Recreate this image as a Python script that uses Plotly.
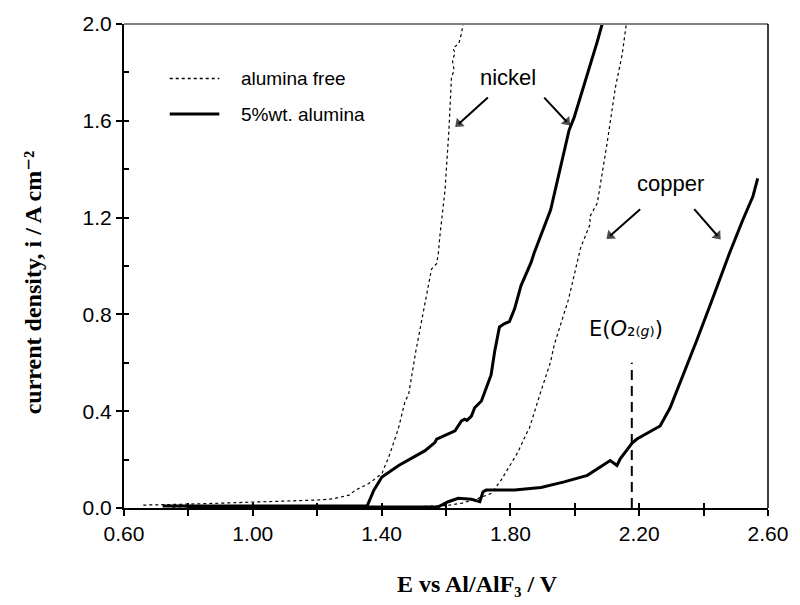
import plotly.graph_objects as go

# ---------------- data ----------------
ni_free_x = [0.66, 0.72, 0.80, 0.90, 1.00, 1.10, 1.20, 1.25, 1.299, 1.319, 1.360, 1.401, 1.422,
             1.443, 1.453, 1.473, 1.484, 1.506, 1.535, 1.555, 1.563, 1.571, 1.576, 1.581, 1.597,
             1.609, 1.617, 1.625, 1.620, 1.628, 1.622, 1.640, 1.648, 1.653]
ni_free_y = [0.012, 0.013, 0.016, 0.020, 0.024, 0.028, 0.033, 0.038, 0.053, 0.074, 0.101, 0.142, 0.210,
             0.292, 0.333, 0.442, 0.469, 0.646, 0.851, 0.987, 1.000, 1.010, 1.050, 1.124, 1.314,
             1.560, 1.778, 1.810, 1.850, 1.880, 1.900, 1.920, 1.960, 2.000]

ni_alu_x = [0.72, 0.90, 1.10, 1.30, 1.355, 1.376, 1.401, 1.453, 1.484, 1.535, 1.566, 1.571, 1.628,
            1.648, 1.658, 1.665, 1.679, 1.689, 1.710, 1.730, 1.740, 1.751, 1.766, 1.782, 1.797,
            1.813, 1.833, 1.864, 1.874, 1.925, 1.982, 1.998, 2.049, 2.070, 2.085]
ni_alu_y = [0.008, 0.008, 0.008, 0.008, 0.008, 0.074, 0.128, 0.176, 0.200, 0.237, 0.271, 0.285, 0.319,
            0.360, 0.367, 0.362, 0.380, 0.414, 0.442, 0.510, 0.550, 0.646, 0.748, 0.762, 0.770,
            0.823, 0.919, 1.014, 1.055, 1.232, 1.560, 1.614, 1.832, 1.928, 2.000]

cu_free_x = [0.75, 1.00, 1.30, 1.50, 1.60, 1.65, 1.70, 1.74, 1.771, 1.813, 1.823, 1.854, 1.859,
             1.895, 1.905, 1.925, 1.936, 1.980, 2.018, 2.035, 2.049, 2.045, 2.070, 2.100, 2.126,
             2.147, 2.160]
cu_free_y = [0.004, 0.004, 0.004, 0.005, 0.010, 0.020, 0.040, 0.060, 0.115, 0.210, 0.230, 0.319, 0.330,
             0.483, 0.523, 0.605, 0.674, 0.860, 1.075, 1.130, 1.178, 1.200, 1.260, 1.505, 1.737,
             1.873, 2.000]

cu_alu_x = [0.80, 1.20, 1.576, 1.607, 1.638, 1.679, 1.705, 1.715, 1.725, 1.813, 1.895, 1.967, 2.039,
            2.110, 2.131, 2.141, 2.178, 2.193, 2.265, 2.296, 2.337, 2.378, 2.424, 2.481, 2.522,
            2.553, 2.568]
cu_alu_y = [0.004, 0.004, 0.005, 0.026, 0.040, 0.036, 0.026, 0.067, 0.074, 0.074, 0.085, 0.108, 0.135,
            0.196, 0.176, 0.203, 0.268, 0.285, 0.339, 0.414, 0.551, 0.690, 0.851, 1.055, 1.191,
            1.287, 1.362]

o2_x = [2.177, 2.177]
o2_y = [0.0, 0.60]

x_tick_vals = [0.6, 1.0, 1.4, 1.8, 2.2, 2.6]
x_tick_text = ["0.60", "1.00", "1.40", "1.80", "2.20", "2.60"]
x_all_ticks = [0.6, 0.8, 1.0, 1.2, 1.4, 1.6, 1.8, 2.0, 2.2, 2.4, 2.6]
y_tick_vals = [0.0, 0.4, 0.8, 1.2, 1.6, 2.0]
y_tick_text = ["0.0", "0.4", "0.8", "1.2", "1.6", "2.0"]
y_all_ticks = [0.0, 0.2, 0.4, 0.6, 0.8, 1.0, 1.2, 1.4, 1.6, 1.8, 2.0]

legend_labels = ["alumina free", "5%wt. alumina"]

# ---------------- figure ----------------
SANS = "Liberation Sans, Arial, sans-serif"
SERIF = "Liberation Serif, Times New Roman, DejaVu Serif, serif"

dot_line = dict(color="black", width=1.2, dash="3px,3px")
solid_line = dict(color="black", width=3)

fig = go.Figure()
fig.add_trace(go.Scatter(x=ni_free_x, y=ni_free_y, mode="lines", line=dot_line, showlegend=False,
                         name="nickel, " + legend_labels[0]))
fig.add_trace(go.Scatter(x=cu_free_x, y=cu_free_y, mode="lines", line=dot_line, showlegend=False,
                         name="copper, " + legend_labels[0]))
fig.add_trace(go.Scatter(x=ni_alu_x, y=ni_alu_y, mode="lines", line=solid_line, showlegend=False,
                         name="nickel, " + legend_labels[1]))
fig.add_trace(go.Scatter(x=cu_alu_x, y=cu_alu_y, mode="lines", line=solid_line, showlegend=False,
                         name="copper, " + legend_labels[1]))
fig.add_trace(go.Scatter(x=o2_x, y=o2_y, mode="lines", xaxis="x2", yaxis="y2",
                         line=dict(color="black", width=2, dash="10px,6px"), showlegend=False,
                         name="E(O2)"))

# pointer arrows (tail -> head), drawn as short lines with a filled triangular head
arrow_pairs = [((1.730, 1.696), (1.640, 1.588)),
               ((1.905, 1.696), (1.975, 1.596)),
               ((2.203, 1.235), (2.110, 1.125)),
               ((2.371, 1.235), (2.443, 1.125))]
for (tx, ty), (hx, hy) in arrow_pairs:
    fig.add_trace(go.Scatter(x=[tx, hx], y=[ty, hy], mode="lines+markers", showlegend=False,
                             hoverinfo="skip", line=dict(color="black", width=2),
                             marker=dict(symbol="triangle-up", angleref="previous", size=[0, 10],
                                         color="black", line=dict(width=0))))

fig.update_layout(
    width=800, height=605,
    margin=dict(l=124, r=28, t=19, b=97),
    paper_bgcolor="white", plot_bgcolor="white",
    font=dict(family=SANS, color="black", size=20),
    xaxis=dict(range=[0.6, 2.6], tickmode="array", tickvals=x_tick_vals, ticktext=x_tick_text,
               ticks="outside", ticklen=6, tickwidth=1.5, tickcolor="black",
               minor=dict(tickmode="array", tickvals=x_all_ticks, ticks="outside", ticklen=6,
                          tickwidth=1.5, tickcolor="black", showgrid=False),
               showline=True, linecolor="black", linewidth=2, showgrid=False, zeroline=False,
               tickfont=dict(family=SANS, size=21, color="black")),
    yaxis=dict(range=[0, 2.0], tickmode="array", tickvals=y_tick_vals, ticktext=y_tick_text,
               ticks="outside", ticklen=6, tickwidth=1.5, tickcolor="black",
               showline=True, linecolor="black", linewidth=2, showgrid=False, zeroline=False,
               tickfont=dict(family=SANS, size=21, color="black")),
    xaxis2=dict(range=[0.6, 2.6], overlaying="x", anchor="y2", tickmode="array", tickvals=x_all_ticks,
                ticks="inside", ticklen=5, tickwidth=1.5, tickcolor="black", showticklabels=False,
                showline=False, showgrid=False, zeroline=False),
    yaxis2=dict(range=[0, 2.0], overlaying="y", anchor="x2", tickmode="array", tickvals=y_all_ticks,
                ticks="inside", ticklen=5, tickwidth=1.5, tickcolor="black", showticklabels=False,
                showline=False, showgrid=False, zeroline=False),
)

# frame: grey top, black right
fig.add_shape(type="line", xref="paper", yref="paper", x0=0, x1=1, y0=1, y1=1,
              line=dict(color="#808080", width=2))
fig.add_shape(type="line", xref="paper", yref="paper", x0=1, x1=1, y0=0, y1=1,
              line=dict(color="black", width=1.5))

# legend (drawn manually to match the original placement)
fig.add_shape(type="line", xref="paper", yref="paper", x0=0.071, x1=0.148, y0=0.8875, y1=0.8875,
              line=dict(color="black", width=1.5, dash="3px,3px"))
fig.add_shape(type="line", xref="paper", yref="paper", x0=0.071, x1=0.148, y0=0.814, y1=0.814,
              line=dict(color="black", width=3))
fig.add_annotation(xref="paper", yref="paper", x=0.179, y=0.8875, text=legend_labels[0],
                   showarrow=False, xanchor="left", yanchor="middle", font=dict(family=SANS, size=19))
fig.add_annotation(xref="paper", yref="paper", x=0.179, y=0.814, text=legend_labels[1],
                   showarrow=False, xanchor="left", yanchor="middle", font=dict(family=SANS, size=19))

# axis titles
fig.add_annotation(xref="paper", yref="paper", x=0.549, y=-0.157,
                   text="<b>E vs Al/AlF₃ / V</b>", showarrow=False,
                   xanchor="center", yanchor="middle", font=dict(family=SERIF, size=24))
fig.add_annotation(xref="paper", yref="paper", x=-0.140, y=0.466, textangle=-90,
                   text="<b>current density, i / A cm⁻²</b>", showarrow=False,
                   xanchor="center", yanchor="middle", font=dict(family=SERIF, size=24))

# labels
fig.add_annotation(x=1.792, y=1.779, text="nickel", showarrow=False, font=dict(family=SANS, size=22))
fig.add_annotation(x=2.296, y=1.342, text="copper", showarrow=False, font=dict(family=SANS, size=22))
fig.add_annotation(x=2.159, y=0.740,
                   text="E(<i>O</i>₂₍<i><span style='font-size:14px'>g</span></i>₎)",
                   showarrow=False, font=dict(family="DejaVu Sans, sans-serif", size=21))

fig.write_html("out.html")
